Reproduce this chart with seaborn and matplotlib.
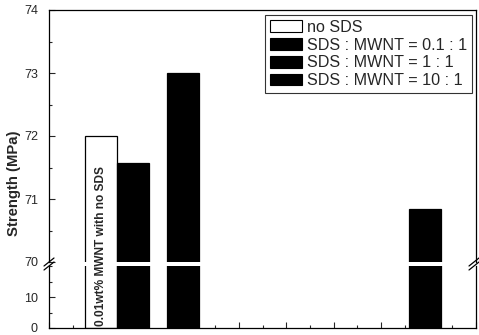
#%%
# Loading packages
import pandas as pd
import matplotlib
matplotlib.use("Agg")
import matplotlib.pyplot as plt
from matplotlib.patches import Patch
from matplotlib.ticker import MultipleLocator
import seaborn as sns

sns.set_style("ticks")
plt.rcParams["font.family"] = ["Liberation Sans", "DejaVu Sans"]

#%%
# Data
series = ["no SDS", "SDS : MWNT = 0.1 : 1", "SDS : MWNT = 1 : 1", "SDS : MWNT = 10 : 1"]
strength = [72.0, 71.57, 73.0, 70.84]
bar_colors = ["white", "black", "black", "black"]
bar_note = "0.01wt% MWNT with no SDS"

#%%
# Layout: slot of each bar on the (unlabelled) x axis
bar_slots = [2.2, 3.55, 5.65, 15.85]
plot_df = pd.DataFrame({"slot": bar_slots, "Strength": strength, "series": series})
palette = dict(zip(series, bar_colors))

W, H = 479, 335
fig = plt.figure(figsize=(W / 100, H / 100), dpi=100)

def fig_box(left, top, right, bottom):
    return [left / W, 1 - bottom / H, (right - left) / W, (bottom - top) / H]

ax_top = fig.add_axes(fig_box(49, 10, 476, 262))
ax_bot = fig.add_axes(fig_box(49, 266, 476, 328))

for ax in (ax_top, ax_bot):
    sns.barplot(data=plot_df, x="slot", y="Strength", hue="series", palette=palette,
                native_scale=True, dodge=False, width=1.0, edgecolor="black",
                linewidth=0.9, legend=False, ax=ax)
    ax.set_xlim(0, 18)
    ax.set_xlabel("")
    ax.set_ylabel("")
    ax.xaxis.set_major_locator(MultipleLocator(2))
    ax.xaxis.set_minor_locator(MultipleLocator(1))
    ax.tick_params(which="both", direction="in", labelsize=9, top=False, right=False)
    ax.tick_params(axis="y", which="both", pad=8)
    ax.tick_params(which="major", length=4, width=0.8)
    ax.tick_params(which="minor", length=2, width=0.8)
    for s in ax.spines.values():
        s.set_linewidth(0.9)
        s.set_color("black")

ax_top.set_ylim(70, 74)
ax_top.yaxis.set_major_locator(MultipleLocator(1))
ax_top.yaxis.set_minor_locator(MultipleLocator(0.5))
ax_top.spines["bottom"].set_visible(False)
ax_top.tick_params(axis="x", which="both", bottom=False, labelbottom=False)

ax_bot.set_ylim(0, 20)
ax_bot.set_yticks([0, 10])
ax_bot.yaxis.set_minor_locator(MultipleLocator(5))
ax_bot.spines["top"].set_visible(False)
ax_bot.tick_params(axis="x", labelbottom=False)

# note written inside the white bar
ax_bot.text(bar_slots[0], 0.6, bar_note, rotation=90, ha="center", va="bottom",
            fontsize=8.6, fontweight="bold", clip_on=False, zorder=5)

fig.text(14 / W, 1 - 183 / H, "Strength (MPa)", rotation=90, ha="center", va="center",
         fontsize=10.7, fontweight="bold")

# break marks on both side spines
for px in (49, 474):
    for py in (262, 266):
        fig.add_artist(plt.Line2D([(px - 5) / W, (px + 5) / W],
                                  [1 - (py + 4) / H, 1 - (py - 4) / H],
                                  color="black", lw=0.9))

handles = [Patch(facecolor=c, edgecolor="black", linewidth=0.8) for c in bar_colors]
leg = ax_top.legend(handles, series, loc="upper right", bbox_to_anchor=(0.991, 0.98),
                    borderaxespad=0, fontsize=11.6, frameon=True, fancybox=False,
                    handlelength=2.0, handleheight=0.75, handletextpad=0.3,
                    labelspacing=0.17, borderpad=0.3)
leg.get_frame().set_edgecolor("black")
leg.get_frame().set_linewidth(0.8)

fig.savefig("out.png", dpi=100)
